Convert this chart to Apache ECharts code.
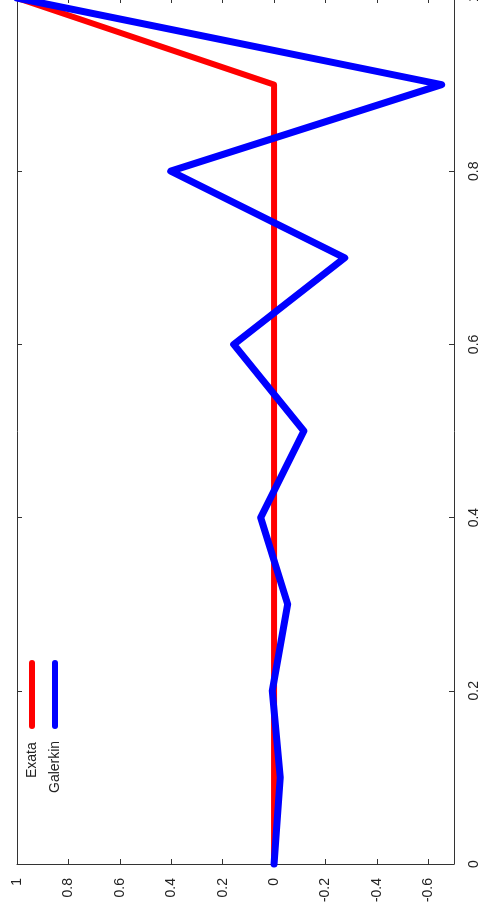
<!DOCTYPE html>
<html>
<head>
<meta charset="utf-8">
<script src="https://cdn.jsdelivr.net/npm/echarts@6/dist/echarts.min.js"></script>
<style>html,body{margin:0;padding:0;background:#fff;}#c{width:486px;height:915px;}</style>
</head>
<body>
<div id="c"></div>
<script>
var xs = [0, 0.1, 0.2, 0.3, 0.4, 0.5, 0.6, 0.7, 0.8, 0.9, 1];
var exata = [0, 0, 0, 0, 0, 0, 0, 0, 0, 0, 1];
var galerkin = [0, -0.024, 0.007, -0.053, 0.052, -0.116, 0.157, -0.275, 0.402, -0.652, 1];
var valueTicks = [1, 0.8, 0.6, 0.4, 0.2, 0, -0.2, -0.4, -0.6];
var seriesNames = ['Exata', 'Galerkin'];

var chart = echarts.init(document.getElementById('c'), null, {renderer: 'canvas'});
function pairs(vals) { return vals.map(function (v, i) { return [v, xs[i]]; }); }
var font = 'Liberation Sans, Arial, sans-serif';
var axisColor = '#333';
var valAxisCommon = {
  type: 'value', inverse: true, min: -0.7, max: 1,
  splitLine: {show: false},
  axisLine: {show: true, onZero: false, lineStyle: {color: axisColor, width: 1}},
  axisTick: {show: true, inside: true, length: 5, customValues: valueTicks, lineStyle: {color: axisColor}}
};
var posAxisCommon = {
  type: 'value', min: 0, max: 1, interval: 0.2,
  splitLine: {show: false},
  axisLine: {show: true, onZero: false, lineStyle: {color: axisColor, width: 1}},
  axisTick: {show: true, inside: true, length: 5, lineStyle: {color: axisColor}}
};
chart.setOption({
  animation: false,
  backgroundColor: '#fff',
  grid: {left: 17, right: 32, top: -2, bottom: 51, containLabel: false, outerBoundsMode: 'none'},
  xAxis: [
    Object.assign({}, valAxisCommon, {position: 'bottom',
      axisLabel: {show: true, rotate: 90, margin: 14, fontSize: 14, color: '#222', fontFamily: font,
        customValues: valueTicks, formatter: function (v) { return String(+v.toFixed(2)); }}}),
    Object.assign({}, valAxisCommon, {position: 'top', axisLabel: {show: false}})
  ],
  yAxis: [
    Object.assign({}, posAxisCommon, {position: 'right',
      axisLabel: {show: true, rotate: 90, margin: 13, fontSize: 14, color: '#222', fontFamily: font,
        formatter: function (v) { return String(+v.toFixed(2)); }}}),
    Object.assign({}, posAxisCommon, {position: 'left', axisLabel: {show: false}})
  ],
  series: [
    {name: seriesNames[0], type: 'line', xAxisIndex: 0, yAxisIndex: 0, data: pairs(exata),
     showSymbol: false, clip: false, lineStyle: {color: '#ff0000', width: 6, join: 'round', cap: 'round'}},
    {name: seriesNames[1], type: 'line', xAxisIndex: 0, yAxisIndex: 0, data: pairs(galerkin),
     showSymbol: false, clip: false, lineStyle: {color: '#0000ff', width: 7, join: 'round', cap: 'round'}}
  ],
  graphic: [
    {type: 'line', shape: {x1: 32, y1: 663, x2: 32, y2: 726}, style: {stroke: '#ff0000', lineWidth: 6, lineCap: 'round'}},
    {type: 'line', shape: {x1: 55, y1: 663, x2: 55, y2: 726}, style: {stroke: '#0000ff', lineWidth: 6, lineCap: 'round'}},
    {type: 'text', x: 32, y: 778, rotation: Math.PI / 2,
     style: {text: seriesNames[0], x: 0, y: 0, textAlign: 'left', textVerticalAlign: 'middle', fontSize: 14, fontFamily: font, fill: '#222'}},
    {type: 'text', x: 55, y: 793, rotation: Math.PI / 2,
     style: {text: seriesNames[1], x: 0, y: 0, textAlign: 'left', textVerticalAlign: 'middle', fontSize: 14, fontFamily: font, fill: '#222'}}
  ]
});
</script>
</body>
</html>
